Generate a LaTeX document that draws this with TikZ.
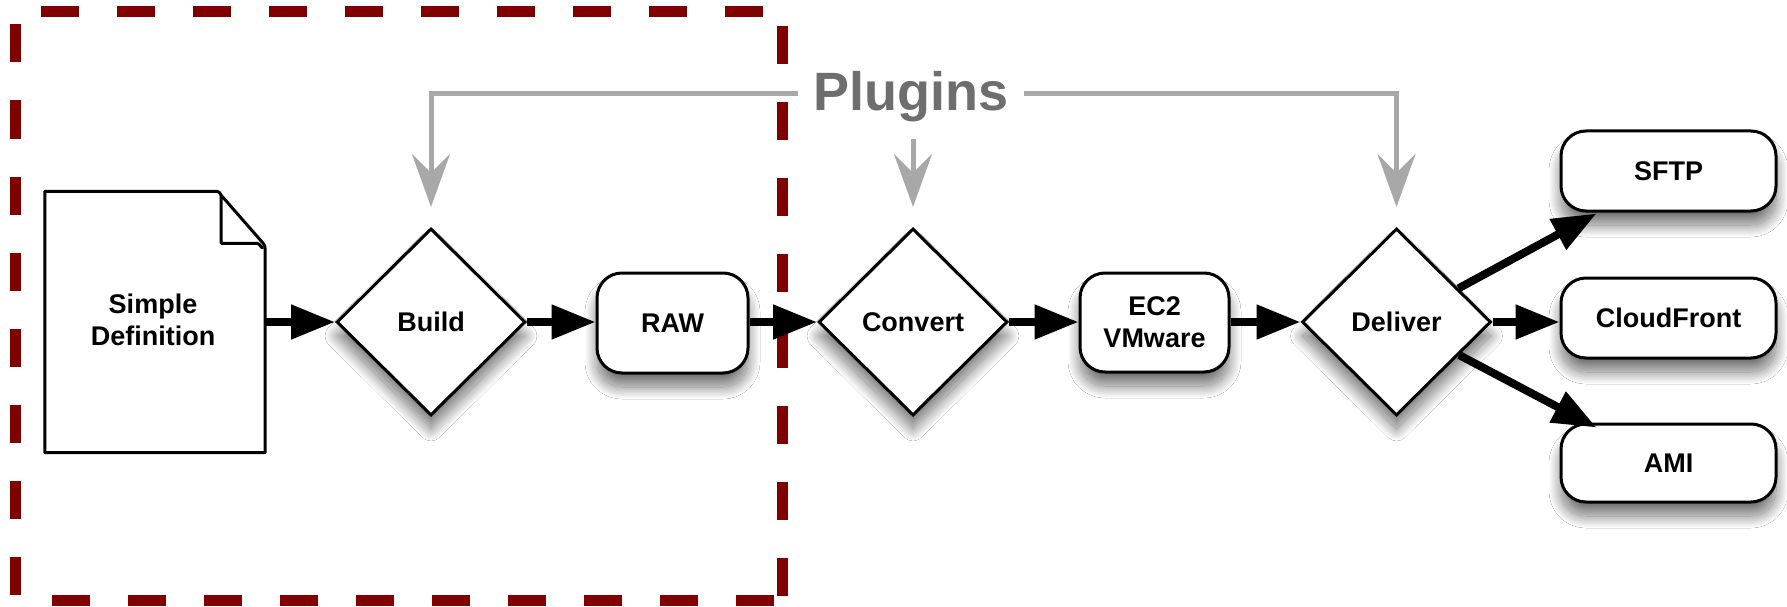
\documentclass[tikz,border=0pt]{standalone}
\usepackage{fontspec}
\setmainfont{Liberation Sans}
\usetikzlibrary{arrows.meta,shapes.geometric,shadows.blur,calc}
\definecolor{dashred}{HTML}{800000}
\definecolor{plugtext}{HTML}{6E6E6E}
\definecolor{plugline}{HTML}{A8A8A8}
\tikzset{
  lbl/.style={font=\fontsize{27}{32}\selectfont\bfseries, align=center},
  shade/.style={blur shadow={shadow xshift=0pt, shadow yshift=-14pt, shadow blur radius=12pt, shadow blur steps=30, shadow opacity=55}},
  choice/.style={lbl, shape=diamond, draw=black, line width=3pt, fill=white, minimum width=189pt, minimum height=187pt, inner sep=0pt, shade},
  roundbox/.style={lbl, rectangle, rounded corners=25pt, draw=black, line width=3pt, fill=white, inner sep=0pt, shade},
  flow/.style={line width=8pt, -{Triangle[length=44pt,width=33pt]}},
  plug/.style={draw=plugline, line width=5pt, -{Stealth[length=53pt,width=38pt,inset=19pt,fill=plugline]}, shorten >=20pt},
  redline/.style={draw=dashred, line width=11pt, dash pattern=on 38pt off 38pt},
}
\begin{document}
\begin{tikzpicture}[x=1pt,y=-1pt]
\useasboundingbox[fill=white] (0,0) rectangle (1787,607);

% dashed frame
\draw[redline, dash phase=50pt] (15,11.5) -- (782,11.5);
\draw[redline, dash phase=63pt] (15,11.5) -- (15,600);
\draw[redline, dash phase=50pt] (782,0) -- (782,600);
\draw[redline, dash phase=39pt] (15,600) -- (782,600);

% document
\node[lbl, minimum width=220pt, minimum height=261pt, inner sep=0pt] (doc) at (155,322) {};
\draw[line width=3pt, line join=round, fill=white]
  (doc.south west) -- (doc.north west) -- ($(doc.north east)+(-48,0)$)
  to[out=0,in=125] ($(doc.north east)+(-44,4)$)
  -- ($(doc.north east)+(-2,52)$)
  to[out=-55,in=90] ($(doc.north east)+(0,58)$)
  -- (doc.south east) -- cycle;
\draw[line width=3pt, line join=round]
  ($(doc.north east)+(-44,4)$) -- ($(doc.north east)+(-44,52)$) -- ($(doc.north east)+(-8,52)$)
  to[out=0,in=235] ($(doc.north east)+(-2,56)$);
\node[lbl] (doctext) at ($(doc)+(-2,-2)$) {Simple\\Definition};

% flow nodes
\node[choice] (build) at (431,322) {Build};
\node[roundbox, minimum width=151pt, minimum height=100pt] (raw) at (672.5,323) {RAW};
\node[choice] (convert) at (913,322) {Convert};
\node[roundbox, minimum width=149pt, minimum height=99pt] (ec2) at (1154.5,322.5) {EC2\\VMware};
\node[choice] (deliver) at (1396.5,322) {Deliver};
\node[roundbox, minimum width=215pt, minimum height=80pt] (sftp) at (1668.5,171) {SFTP};
\node[roundbox, minimum width=215pt, minimum height=80pt] (cloud) at (1668.5,318) {CloudFront};
\node[roundbox, minimum width=215pt, minimum height=78pt] (ami) at (1668.5,463) {AMI};

% plugins
\node[font=\fontsize{54}{60}\selectfont\bfseries, text=plugtext, text height=44pt, text depth=11pt,
      inner xsep=0pt, inner ysep=17pt, minimum width=226pt] (plugins) at (911,94) {Plugins};
\draw[plug] (plugins.west) -| (build.north);
\draw[plug] (plugins.east) -| (deliver.north);
\draw[plug] (plugins.south -| convert.north) -- (convert.north);

% black arrows
\draw[flow] (doc.east |- build.west) -- (build.west);
\draw[flow] (build.east) -- (build.east -| raw.west);
\draw[flow] (raw.east |- convert.west) -- (convert.west);
\draw[flow] (convert.east) -- (convert.east -| ec2.west);
\draw[flow] (ec2.east |- deliver.west) -- (deliver.west);
\draw[flow] (deliver.east) -- (deliver.east -| cloud.west);
\coordinate (sftpin) at ($(sftp.south west)+(37,1)$);
\coordinate (amiin) at ($(ami.north west)+(37,5)$);
\draw[flow] (deliver) -- (sftpin);
\draw[flow] (deliver) -- (amiin);
\end{tikzpicture}
\end{document}
